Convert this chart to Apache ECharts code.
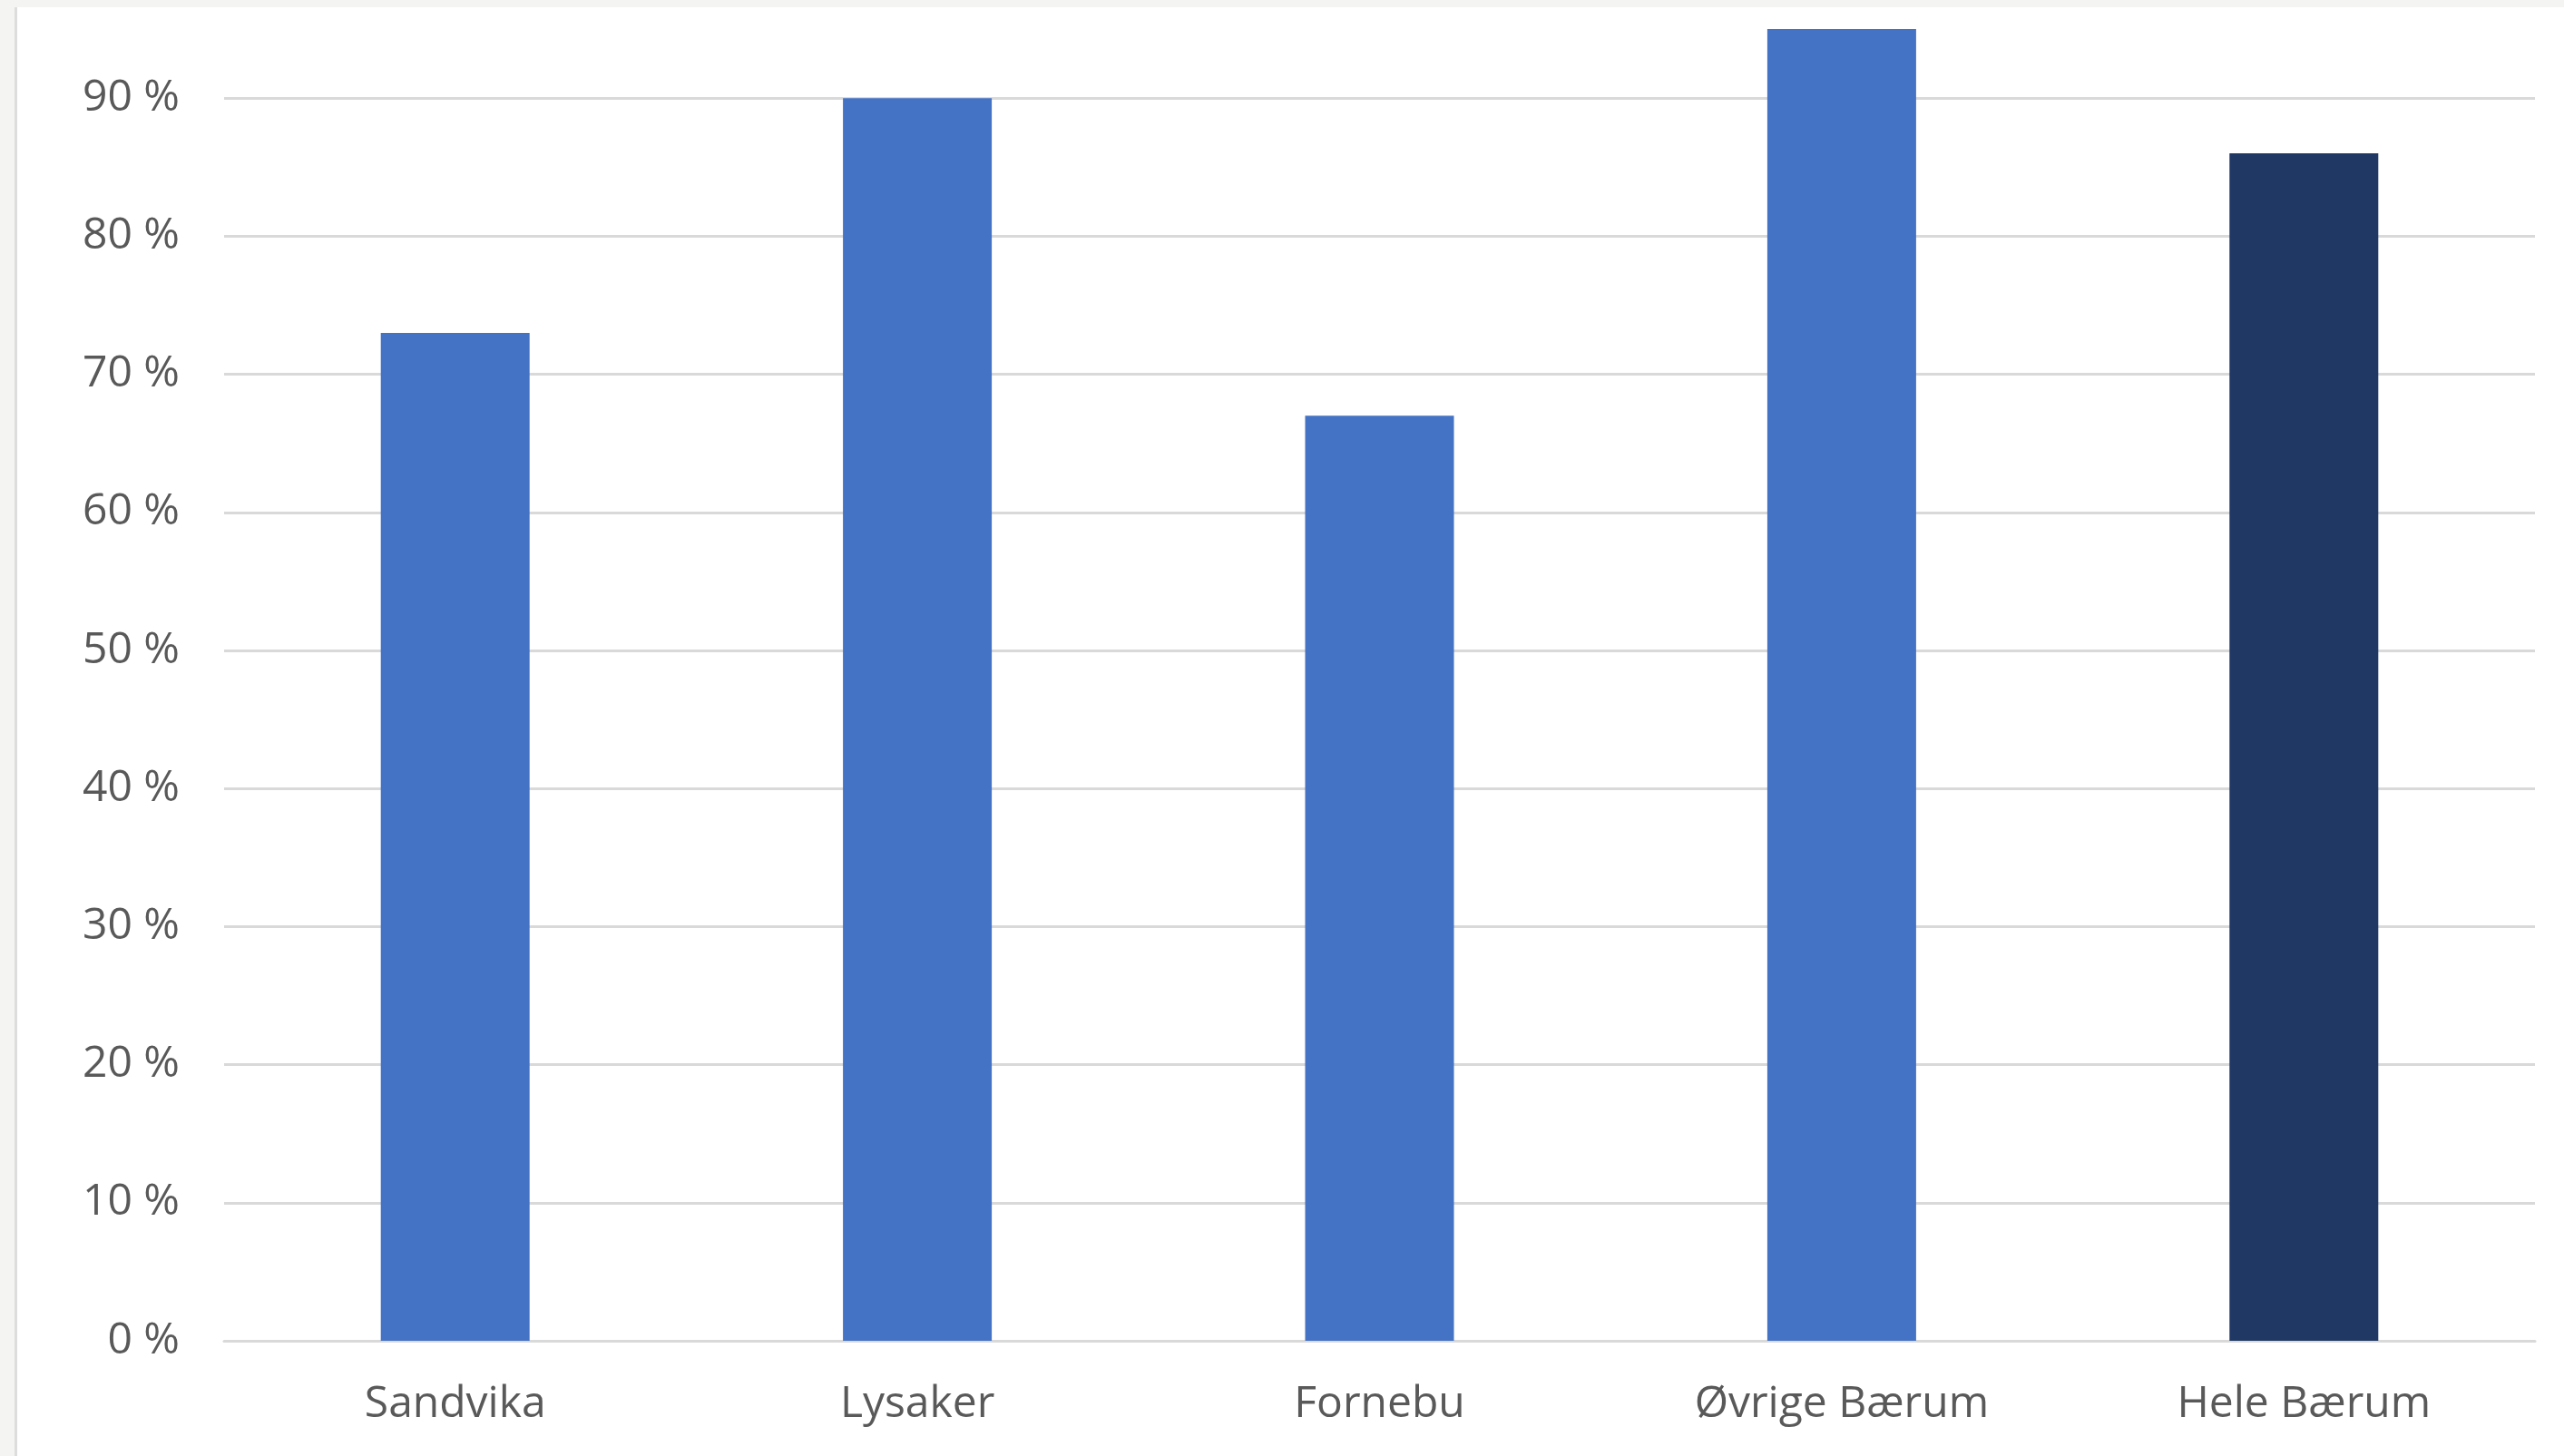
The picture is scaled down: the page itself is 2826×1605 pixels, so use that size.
<!DOCTYPE html>
<html>
<head>
<meta charset="utf-8">
<script src="https://cdn.jsdelivr.net/npm/echarts@6/dist/echarts.min.js"></script>
<style>
  html, body { margin: 0; padding: 0; background: #ffffff; }
  #chart { width: 2826px; height: 1605px; }
</style>
</head>
<body>
<div id="chart"></div>
<script>
const categories = ['Sandvika', 'Lysaker', 'Fornebu', 'Øvrige Bærum', 'Hele Bærum'];
const values = [73, 90, 67, 95, 86];
const barColors = ['#4472C4', '#4472C4', '#4472C4', '#4472C4', '#203864'];
const yTicks = { min: 0, max: 100, interval: 10 };

const chart = echarts.init(document.getElementById('chart'), null, { renderer: 'canvas' });
const fontFamily = '"Open Sans", "Noto Sans", sans-serif';

chart.setOption({
  backgroundColor: '#ffffff',
  animation: false,
  graphic: [
    { type: 'rect', left: 0, top: 0, shape: { x: 0, y: 0, width: 2826, height: 8 }, style: { fill: '#f4f5f3' }, silent: true },
    { type: 'rect', left: 0, top: 0, shape: { x: 0, y: 0, width: 16, height: 1605 }, style: { fill: '#f4f5f3' }, silent: true },
    { type: 'rect', left: 16, top: 8, shape: { x: 0, y: 0, width: 3, height: 1597 }, style: { fill: '#dddddd' }, silent: true }
  ],
  grid: {
    left: 247,
    right: 32,
    top: -44,
    bottom: 127,
    containLabel: false,
    outerBoundsMode: 'none'
  },
  xAxis: {
    type: 'category',
    data: categories,
    axisLine: { show: true, lineStyle: { color: '#d9d9d9', width: 3 } },
    axisTick: { show: false },
    axisLabel: {
      color: '#595959',
      fontFamily: fontFamily,
      fontSize: 48,
      margin: 46
    }
  },
  yAxis: {
    type: 'value',
    min: yTicks.min,
    max: yTicks.max,
    interval: yTicks.interval,
    axisLine: { show: false },
    axisTick: { show: false },
    axisLabel: {
      color: '#595959',
      fontFamily: fontFamily,
      fontSize: 48,
      margin: 49,
      formatter: '{value} %'
    },
    splitLine: { show: true, lineStyle: { color: '#d9d9d9', width: 3 } }
  },
  series: [{
    type: 'bar',
    data: values.map((v, i) => ({ value: v, itemStyle: { color: barColors[i] } })),
    barWidth: 164
  }]
});
</script>
</body>
</html>
